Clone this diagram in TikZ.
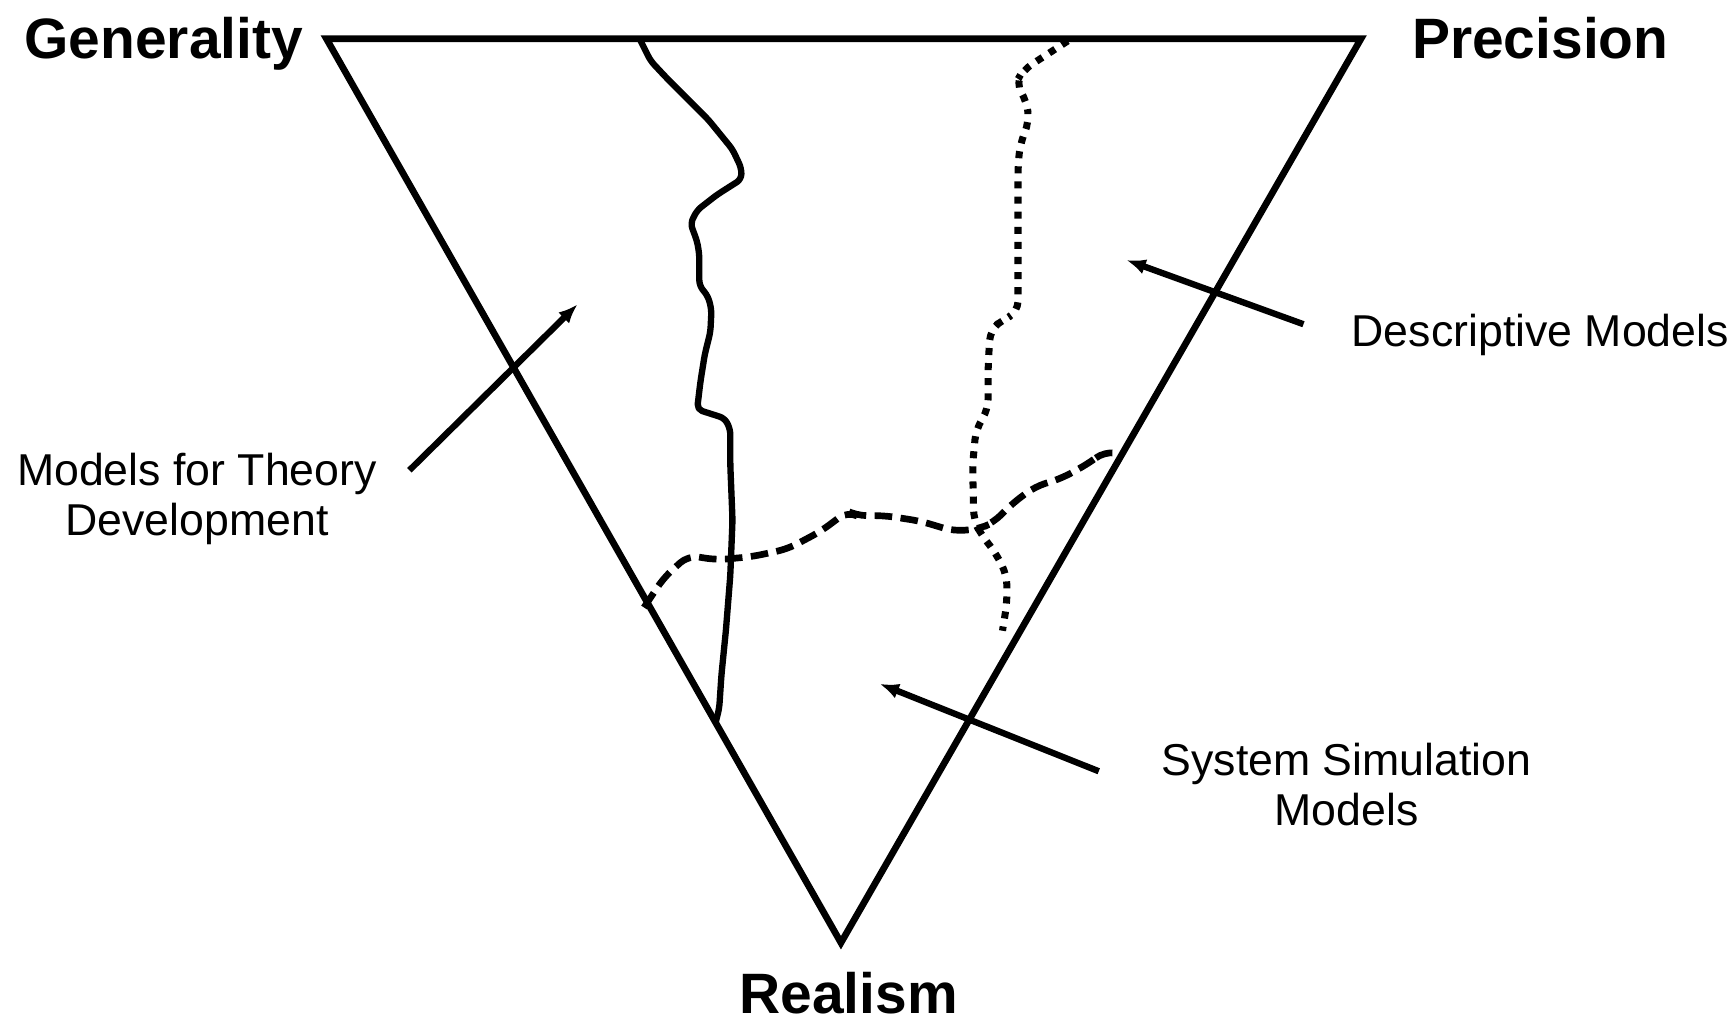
\documentclass[tikz,border=0pt]{standalone}
\usepackage{fontspec}
\setmainfont{Liberation Sans}
\usetikzlibrary{arrows.meta}

\tikzset{
  side/.style={line width=1.9pt, line join=miter},
  border/.style={line width=1.8pt, line join=round, rounded corners=1.5pt},
  dashborder/.style={line width=1.9pt, dash pattern=on 5pt off 2.4pt, rounded corners=3pt},
  dotborder/.style={line width=2pt, dash pattern=on 2pt off 2.3pt, rounded corners=3pt},
  pointer/.style={line width=1.8pt, -{Latex[length=5.5pt,width=4.4pt]}},
  axisname/.style={font=\fontsize{16.2}{19}\selectfont\bfseries, anchor=base, inner sep=0pt},
  modelname/.style={font=\fontsize{12.7}{14.2}\selectfont, align=center, inner sep=0pt}
}

\begin{document}
\begin{tikzpicture}[x=0.011065cm, y=-0.011065cm]
    \useasboundingbox (0,0) rectangle (1568,926);

    % corners of the triangle
    \coordinate (gen) at (295,35);
    \coordinate (pre) at (1230,35);
    \coordinate (rea) at (760,852);
    \draw[side] (gen) -- (pre) -- (rea) -- cycle;

    \node[axisname] (generality) at (148,53) {Generality};
    \node[axisname] (precision) at (1392,53) {Precision};
    \node[axisname] (realism) at (767,916) {Realism};

    % boundaries between the model types
    \draw[border] (578,35) -- (588,55) -- (602,70) -- (640,108) -- (662,135)
        -- (670,152) -- (670,162) -- (648,176) -- (630,190) -- (624,202)
        -- (630,218) -- (632,230) -- (632,258) -- (640,268) -- (643,280)
        -- (642,300) -- (637,320) -- (633,345) -- (630,370) -- (655,378)
        -- (660,388) -- (660,420) -- (662,470) -- (660,520) -- (656,570)
        -- (652,610) -- (650,640) -- (647,652);
    \draw[dashborder] (582,549) -- (600,522) -- (622,502) -- (648,506)
        -- (680,503) -- (712,496) -- (742,480) -- (766,462) -- (774,466)
        -- (800,466) -- (832,471) -- (862,480) -- (885,478) -- (898,472)
        -- (915,455) -- (935,440) -- (960,432) -- (985,418) -- (998,408)
        -- (1012,410);
    \draw[dotborder] (965,37) -- (945,50) -- (925,63) -- (918,75) -- (928,92)
        -- (930,110) -- (922,130) -- (920,150) -- (920,230) -- (920,282)
        -- (905,290) -- (895,298) -- (893,330) -- (893,370) -- (882,388)
        -- (879,420) -- (880,470) -- (886,482) -- (900,500) -- (910,520)
        -- (910,545) -- (906,570);

    % labels and their pointers
    \node[modelname] (theory) at (178,451) {Models for Theory\\Development};
    \node[modelname, anchor=base] (descriptive) at (1392,313) {Descriptive Models};
    \node[modelname] (simulation) at (1217,709) {System Simulation\\Models};

    \coordinate (theorytail) at (370,425);
    \coordinate (theorytip) at (522,275);
    \coordinate (descriptivetail) at (1178,293);
    \coordinate (descriptivetip) at (1018,235);
    \coordinate (simulationtail) at (993,697);
    \coordinate (simulationtip) at (795,618);
    \draw[pointer] (theorytail) -- (theorytip);
    \draw[pointer] (descriptivetail) -- (descriptivetip);
    \draw[pointer] (simulationtail) -- (simulationtip);
\end{tikzpicture}
\end{document}
